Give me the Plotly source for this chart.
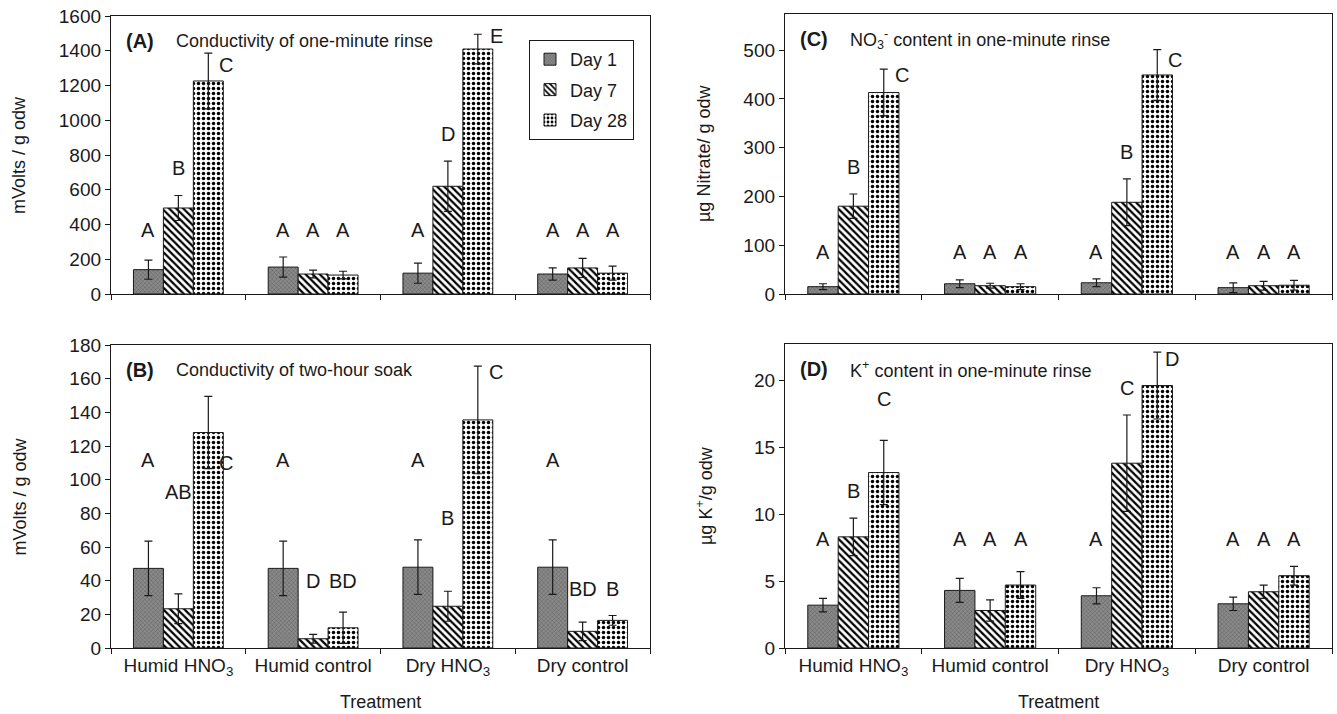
import plotly.graph_objects as go

# ---------------- data ----------------
categories = ["Humid HNO<sub>3</sub>", "Humid control", "Dry HNO<sub>3</sub>", "Dry control"]
days = ["Day 1", "Day 7", "Day 28"]

# (A) Conductivity of one-minute rinse (mVolts / g odw)
a_day1 = [140, 155, 120, 115]
a_day7 = [495, 115, 620, 150]
a_day28 = [1226, 109, 1410, 120]
a_err1 = [55, 58, 58, 35]
a_err7 = [72, 22, 145, 55]
a_err28 = [160, 22, 85, 40]
a_let1 = ["A", "A", "A", "A"]
a_let7 = ["B", "A", "D", "A"]
a_let28 = ["C", "A", "E", "A"]

# (B) Conductivity of two-hour soak (mVolts / g odw)
b_day1 = [47.3, 47.3, 48.0, 48.0]
b_day7 = [23.3, 5.5, 24.8, 9.9]
b_day28 = [128, 12.0, 135.5, 16.4]
b_err1 = [16.2, 16.2, 16.2, 16.2]
b_err7 = [8.8, 2.6, 8.9, 5.5]
b_err28 = [21.5, 9.3, 32, 2.9]
b_let1 = ["A", "A", "A", "A"]
b_let7 = ["AB", "D", "B", "BD"]
b_let28 = ["C", "BD", "C", "B"]

# (C) NO3- content in one-minute rinse (ug Nitrate / g odw)
c_day1 = [15, 21, 23, 13]
c_day7 = [180, 17, 188, 17]
c_day28 = [413, 15, 449, 18]
c_err1 = [6, 8, 8, 10]
c_err7 = [25, 5, 48, 9]
c_err28 = [48, 6, 52, 10]
c_let1 = ["A", "A", "A", "A"]
c_let7 = ["B", "A", "B", "A"]
c_let28 = ["C", "A", "C", "A"]

# (D) K+ content in one-minute rinse (ug K+ / g odw)
d_day1 = [3.2, 4.3, 3.9, 3.3]
d_day7 = [8.3, 2.8, 13.8, 4.2]
d_day28 = [13.1, 4.7, 19.6, 5.4]
d_err1 = [0.5, 0.9, 0.6, 0.5]
d_err7 = [1.4, 0.8, 3.6, 0.5]
d_err28 = [2.4, 1.0, 2.5, 0.7]
d_let1 = ["A", "A", "A", "A"]
d_let7 = ["B", "A", "C", "A"]
d_let28 = ["C", "A", "D", "A"]

y_ticks_a = 200
y_ticks_b = 20
y_ticks_c = 100
y_ticks_d = 5

# ---------------- layout geometry ----------------
W, H = 1337, 714
FONT = "Arial, Liberation Sans, sans-serif"
INK = "#1a1a1a"


def px_x(v):
    return v / W


def px_y(v):
    return 1 - v / H


# side labels: (day, group) -> (dx px right of error line, dy px below reference, reference)
# lift: (day, group) -> extra px raise of a letter above its default baseline
panels = [
    dict(n=1, vals=[a_day1, a_day7, a_day28], errs=[a_err1, a_err7, a_err28],
         lets=[a_let1, a_let7, a_let28], rng=[0, 1600], dtick=y_ticks_a,
         xd=[111, 650], yd=[16, 294], tag="(A)", title="Conductivity of one-minute rinse",
         ytitle="mVolts / g odw", ytx=19,
         side={(2, 0): (9, 12, "cap"), (2, 2): (10, 2, "cap")}, lift={}, bottom=False),
    dict(n=2, vals=[b_day1, b_day7, b_day28], errs=[b_err1, b_err7, b_err28],
         lets=[b_let1, b_let7, b_let28], rng=[0, 180], dtick=y_ticks_b,
         xd=[111, 650], yd=[345, 648], tag="(B)", title="Conductivity of two-hour soak",
         ytitle="mVolts / g odw", ytx=19,
         side={(2, 0): (9, 30, "bar"), (2, 2): (9, 6, "cap")},
         lift={(0, 0): 53, (0, 1): 53, (0, 2): 53, (0, 3): 53, (1, 0): 75, (1, 2): 46,
               (1, 1): 4, (2, 1): 4}, bottom=True),
    dict(n=3, vals=[c_day1, c_day7, c_day28], errs=[c_err1, c_err7, c_err28],
         lets=[c_let1, c_let7, c_let28], rng=[0, 574], dtick=y_ticks_c,
         xd=[785, 1332], yd=[14, 294], tag="(C)",
         title="NO<sub>3</sub><sup>-</sup> content in one-minute rinse",
         ytitle="µg Nitrate/ g odw", ytx=704,
         side={(2, 0): (9, 6, "cap"), (2, 2): (9, 10, "cap")}, lift={}, bottom=False),
    dict(n=4, vals=[d_day1, d_day7, d_day28], errs=[d_err1, d_err7, d_err28],
         lets=[d_let1, d_let7, d_let28], rng=[0, 22.7], dtick=y_ticks_d,
         xd=[785, 1332], yd=[344, 648], tag="(D)",
         title="K<sup>+</sup> content in one-minute rinse",
         ytitle="µg K<sup>+</sup>/g odw", ytx=704,
         side={(2, 2): (6, 7, "cap")}, lift={(2, 0): 14}, bottom=True),
]

styles = [
    dict(bgcolor="#8a8a8a", shape="x", fgcolor="#474747", size=3, solidity=0.2),
    dict(bgcolor="white", shape="\\", fgcolor="black", size=5, solidity=0.45),
    dict(bgcolor="white", shape=".", fgcolor="black", size=5, solidity=0.38),
]

fig = go.Figure()
annotations = []
layout = {}

for p in panels:
    n = p["n"]
    xa = "x" if n == 1 else f"x{n}"
    ya = "y" if n == 1 else f"y{n}"
    for d in range(3):
        fig.add_trace(go.Bar(
            x=categories, y=p["vals"][d], name=days[d], xaxis=xa, yaxis=ya,
            showlegend=(n == 1), legendgroup=days[d],
            marker=dict(color=styles[d]["bgcolor"], line=dict(color=INK, width=1),
                        pattern=dict(shape=styles[d]["shape"], fgcolor=styles[d]["fgcolor"],
                                     bgcolor=styles[d]["bgcolor"], size=styles[d]["size"],
                                     solidity=styles[d]["solidity"], fillmode="replace")),
            error_y=dict(type="data", array=p["errs"][d], color=INK, thickness=1.2, width=4),
        ))
    x0, x1 = p["xd"]
    ytop, ybot = p["yd"]
    layout["xaxis" if n == 1 else f"xaxis{n}"] = dict(
        domain=[px_x(x0), px_x(x1)], anchor=ya, type="category", tickson="boundaries",
        ticks="outside", ticklen=5, tickcolor=INK, showline=True, mirror=True, linecolor=INK,
        linewidth=1.3, showgrid=False, showticklabels=p["bottom"], automargin=False,
        tickfont=dict(family=FONT, size=19, color=INK),
    )
    layout["yaxis" if n == 1 else f"yaxis{n}"] = dict(
        domain=[1 - ybot / H, 1 - ytop / H], anchor=xa, range=p["rng"], dtick=p["dtick"],
        ticks="outside", ticklen=5, tickcolor=INK, showline=True, mirror=True, linecolor=INK,
        linewidth=1.3, showgrid=False, zeroline=False, automargin=False,
        tickfont=dict(family=FONT, size=19, color=INK),
    )
    # panel titles
    annotations.append(dict(xref="paper", yref="paper", x=px_x(x0 + 13), y=px_y(ytop + 25),
                            xanchor="left", yanchor="middle", showarrow=False,
                            text=f"<b>{p['tag']}</b>", font=dict(family=FONT, size=20, color=INK)))
    annotations.append(dict(xref="paper", yref="paper", x=px_x(x0 + 63), y=px_y(ytop + 25),
                            xanchor="left", yanchor="middle", showarrow=False,
                            text=p["title"], font=dict(family=FONT, size=18, color=INK)))
    # y axis titles
    annotations.append(dict(xref="paper", yref="paper", x=px_x(p["ytx"]), y=px_y((ytop + ybot) / 2),
                            xanchor="center", yanchor="middle", showarrow=False, textangle=-90,
                            text=p["ytitle"], font=dict(family=FONT, size=18, color=INK)))
    if p["bottom"]:
        annotations.append(dict(xref="paper", yref="paper", x=px_x((x0 + x1) / 2), y=px_y(702),
                                xanchor="center", yanchor="middle", showarrow=False,
                                text="Treatment", font=dict(family=FONT, size=18, color=INK)))
    # significance letters
    bar_px = (x1 - x0) / 4 * 2 / 9
    span = p["rng"][1] - p["rng"][0]
    caps = [[p["vals"][d][g] + p["errs"][d][g] for g in range(4)] for d in range(3)]
    a_level = max(caps[d][g] for d in range(3) for g in range(4)
                  if p["lets"][d][g] == "A" and (d, g) not in p["side"])
    for g in range(4):
        for d in range(3):
            letter = p["lets"][d][g]
            if (d, g) in p["side"]:
                dx, dy, ref = p["side"][(d, g)]
                yref_val = caps[d][g] if ref == "cap" else p["vals"][d][g]
                annotations.append(dict(xref=xa, yref=ya, x=categories[g], y=yref_val,
                                        xshift=(d - 1) * bar_px + dx, yshift=-dy,
                                        xanchor="left", yanchor="middle", showarrow=False,
                                        text=letter, font=dict(family=FONT, size=20, color=INK)))
                continue
            if letter == "A":
                level = a_level
            else:
                # neighbouring labels of similar height in a group share one baseline
                level = caps[d][g]
                for e in range(1, 3):
                    if e != d and (e, g) not in p["side"] and p["lets"][e][g] != "A" \
                            and abs(caps[e][g] - caps[d][g]) < 0.1 * span:
                        level = max(level, caps[e][g])
            annotations.append(dict(xref=xa, yref=ya, x=categories[g], y=level,
                                    xshift=(d - 1) * bar_px, yshift=14 + p["lift"].get((d, g), 0),
                                    xanchor="center", yanchor="bottom", showarrow=False,
                                    text=letter, font=dict(family=FONT, size=20, color=INK)))

fig.update_layout(
    **layout,
    width=W, height=H, autosize=False,
    margin=dict(l=0, r=0, t=0, b=0, autoexpand=False),
    paper_bgcolor="white", plot_bgcolor="white",
    barmode="group", bargap=1 / 3, bargroupgap=0,
    font=dict(family=FONT, size=18, color=INK),
    legend=dict(x=px_x(529), y=px_y(40), xanchor="left", yanchor="top",
                bordercolor=INK, borderwidth=1, bgcolor="white",
                font=dict(family=FONT, size=18, color=INK), tracegroupgap=4),
    annotations=annotations,
)

fig.write_html("out.html", config={"responsive": False, "displayModeBar": False},
               post_script="document.body.style.margin='0px';document.body.style.overflow='hidden';")
